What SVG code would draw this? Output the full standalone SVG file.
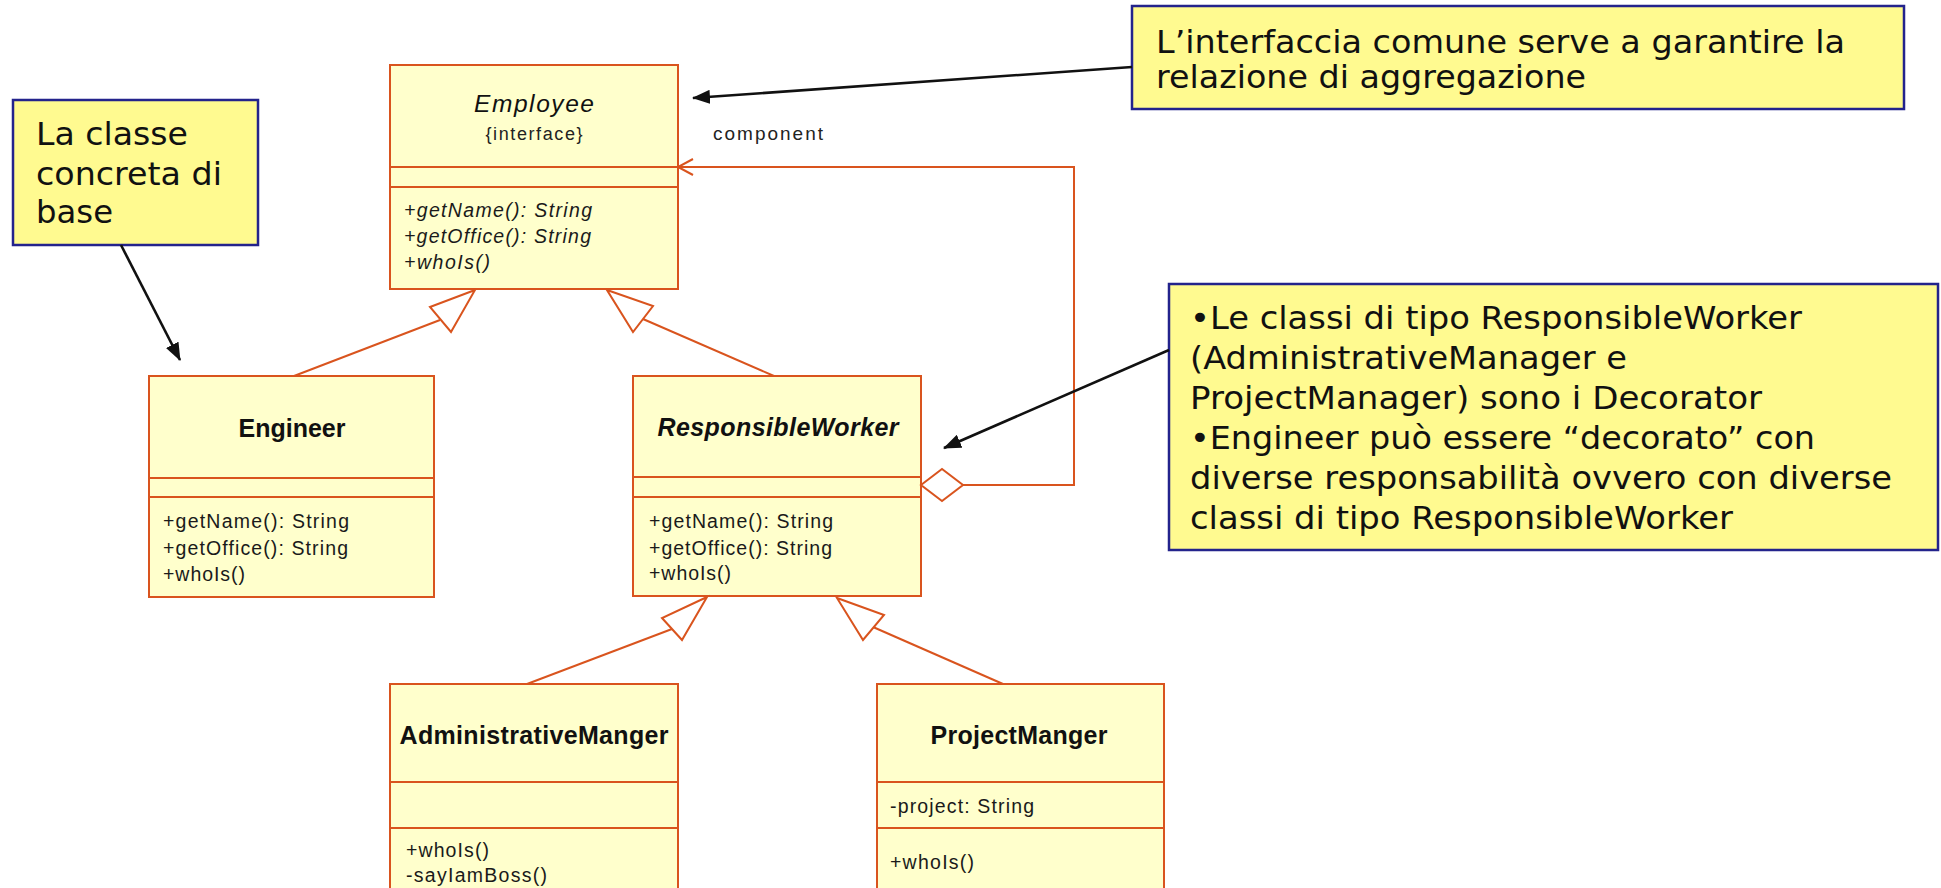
<svg xmlns="http://www.w3.org/2000/svg" width="1941" height="888" viewBox="0 0 1941 888">
  <defs>
    <style>
      .box { fill: #FFFFCC; stroke: #D9541E; stroke-width: 2; }
      .sep { stroke: #D9541E; stroke-width: 2; }
      .name { font-family: "Liberation Sans", Arial, sans-serif; font-size: 25px; font-weight: bold; fill: #111; text-anchor: middle; }
      .abstract { font-style: italic; }
      .stereo { font-family: "Liberation Sans", Arial, sans-serif; font-size: 18px; fill: #222; text-anchor: middle; }
      .member { font-family: "Liberation Sans", Arial, sans-serif; font-size: 19.5px; fill: #1a1a1a; }
      .ital { font-style: italic; }
      .label { font-family: "Liberation Sans", Arial, sans-serif; font-size: 19px; fill: #222; }
      .note { fill: #FFFA90; stroke: #23238C; stroke-width: 2.5; }
      .notetext { font-family: "DejaVu Sans", Verdana, sans-serif; font-size: 32px; fill: #111; }
      .uml { stroke: #D9541E; stroke-width: 2; fill: none; }
      .tri { stroke: #D9541E; stroke-width: 2; fill: #fff; stroke-linejoin: miter; }
      .pointer { stroke: #111; stroke-width: 2.6; fill: none; marker-end: url(#head); }
    </style>
    <marker id="head" viewBox="0 0 18 14" refX="17" refY="7" markerWidth="18" markerHeight="14" markerUnits="userSpaceOnUse" orient="auto">
      <path d="M0,0 L18,7 L0,14 z" fill="#111"/>
    </marker>
  </defs>

  <rect width="1941" height="888" fill="#fff"/>

  <!-- Employee interface -->
  <g id="employee">
    <rect class="box" x="390" y="65" width="288" height="224"/>
    <line class="sep" x1="390" y1="167" x2="678" y2="167"/>
    <line class="sep" x1="390" y1="187" x2="678" y2="187"/>
    <text class="name abstract" x="534" y="112" style="font-weight:normal;font-size:24.5px" textLength="120" lengthAdjust="spacing">Employee</text>
    <text class="stereo" x="534" y="140" textLength="97" lengthAdjust="spacing">{interface}</text>
    <text class="member ital" x="404" y="217" textLength="188" lengthAdjust="spacing">+getName(): String</text>
    <text class="member ital" x="404" y="243" textLength="187" lengthAdjust="spacing">+getOffice(): String</text>
    <text class="member ital" x="404" y="269" textLength="86" lengthAdjust="spacing">+whoIs()</text>
  </g>

  <!-- Engineer -->
  <g id="engineer">
    <rect class="box" x="149" y="376" width="285" height="221"/>
    <line class="sep" x1="149" y1="478" x2="434" y2="478"/>
    <line class="sep" x1="149" y1="497" x2="434" y2="497"/>
    <text class="name" x="292" y="437" textLength="107" lengthAdjust="spacing">Engineer</text>
    <text class="member" x="163" y="528" textLength="186" lengthAdjust="spacing">+getName(): String</text>
    <text class="member" x="163" y="555" textLength="185" lengthAdjust="spacing">+getOffice(): String</text>
    <text class="member" x="163" y="581" textLength="82" lengthAdjust="spacing">+whoIs()</text>
  </g>

  <!-- ResponsibleWorker (abstract decorator) -->
  <g id="responsible-worker">
    <rect class="box" x="633" y="376" width="288" height="220"/>
    <line class="sep" x1="633" y1="477" x2="921" y2="477"/>
    <line class="sep" x1="633" y1="497" x2="921" y2="497"/>
    <text class="name abstract" x="778" y="436" textLength="241" lengthAdjust="spacing">ResponsibleWorker</text>
    <text class="member" x="649" y="528" textLength="184" lengthAdjust="spacing">+getName(): String</text>
    <text class="member" x="649" y="555" textLength="183" lengthAdjust="spacing">+getOffice(): String</text>
    <text class="member" x="649" y="580" textLength="82" lengthAdjust="spacing">+whoIs()</text>
  </g>

  <!-- AdministrativeManger -->
  <g id="administrative-manger">
    <rect class="box" x="390" y="684" width="288" height="230"/>
    <line class="sep" x1="390" y1="782" x2="678" y2="782"/>
    <line class="sep" x1="390" y1="828" x2="678" y2="828"/>
    <text class="name" x="534" y="744" textLength="269" lengthAdjust="spacing">AdministrativeManger</text>
    <text class="member" x="406" y="857" textLength="83" lengthAdjust="spacing">+whoIs()</text>
    <text class="member" x="406" y="882" textLength="141" lengthAdjust="spacing">-sayIamBoss()</text>
  </g>

  <!-- ProjectManger -->
  <g id="project-manger">
    <rect class="box" x="877" y="684" width="287" height="230"/>
    <line class="sep" x1="877" y1="782" x2="1164" y2="782"/>
    <line class="sep" x1="877" y1="828" x2="1164" y2="828"/>
    <text class="name" x="1019" y="744" textLength="177" lengthAdjust="spacing">ProjectManger</text>
    <text class="member" x="890" y="813" textLength="144" lengthAdjust="spacing">-project: String</text>
    <text class="member" x="890" y="869" textLength="84" lengthAdjust="spacing">+whoIs()</text>
  </g>

  <!-- UML relationships -->
  <g id="connectors">
    <!-- generalizations -->
    <line class="uml" x1="294" y1="376" x2="440" y2="320"/>
    <polygon class="tri" points="475,290 430,307 451,332"/>
    <line class="uml" x1="774" y1="376" x2="643" y2="319"/>
    <polygon class="tri" points="607,290 653,306 633,332"/>
    <line class="uml" x1="527" y1="684" x2="672" y2="629"/>
    <polygon class="tri" points="707,597 662,618 682,640"/>
    <line class="uml" x1="1003" y1="684" x2="873" y2="627"/>
    <polygon class="tri" points="837,598 884,615 863,640"/>
    <!-- aggregation: ResponsibleWorker holds a component Employee -->
    <polyline class="uml" points="963,485 1074,485 1074,167 678,167"/>
    <polyline class="uml" points="693,159 678,167 693,175"/>
    <polygon class="tri" points="921,485 942,469 963,485 942,501"/>
    <text class="label" x="713" y="140" textLength="110" lengthAdjust="spacing">component</text>
  </g>

  <!-- explanatory notes -->
  <g id="note-base">
    <rect class="note" x="13" y="100" width="245" height="145"/>
    <text class="notetext" x="36" y="145" textLength="152" lengthAdjust="spacingAndGlyphs">La classe</text>
    <text class="notetext" x="36" y="185" textLength="186" lengthAdjust="spacingAndGlyphs">concreta di</text>
    <text class="notetext" x="36" y="223" textLength="77" lengthAdjust="spacingAndGlyphs">base</text>
  </g>

  <g id="note-interface">
    <rect class="note" x="1132" y="6" width="772" height="103"/>
    <text class="notetext" x="1156" y="53" textLength="689" lengthAdjust="spacingAndGlyphs">L’interfaccia comune serve a garantire la</text>
    <text class="notetext" x="1156" y="88" textLength="430" lengthAdjust="spacingAndGlyphs">relazione di aggregazione</text>
  </g>

  <g id="note-decorator">
    <rect class="note" x="1169" y="284" width="769" height="266"/>
    <text class="notetext" x="1190" y="329" textLength="612" lengthAdjust="spacingAndGlyphs">•Le classi di tipo ResponsibleWorker</text>
    <text class="notetext" x="1190" y="369" textLength="437" lengthAdjust="spacingAndGlyphs">(AdministrativeManager e</text>
    <text class="notetext" x="1190" y="409" textLength="572" lengthAdjust="spacingAndGlyphs">ProjectManager) sono i Decorator</text>
    <text class="notetext" x="1190" y="449" textLength="625" lengthAdjust="spacingAndGlyphs">•Engineer può essere “decorato” con</text>
    <text class="notetext" x="1190" y="489" textLength="702" lengthAdjust="spacingAndGlyphs">diverse responsabilità ovvero con diverse</text>
    <text class="notetext" x="1190" y="529" textLength="543" lengthAdjust="spacingAndGlyphs">classi di tipo ResponsibleWorker</text>
  </g>

  <!-- note pointers -->
  <g id="note-pointers">
    <line class="pointer" x1="121" y1="245" x2="180" y2="360"/>
    <line class="pointer" x1="1132" y1="67" x2="693" y2="98"/>
    <line class="pointer" x1="1169" y1="350" x2="944" y2="448"/>
  </g>
</svg>
